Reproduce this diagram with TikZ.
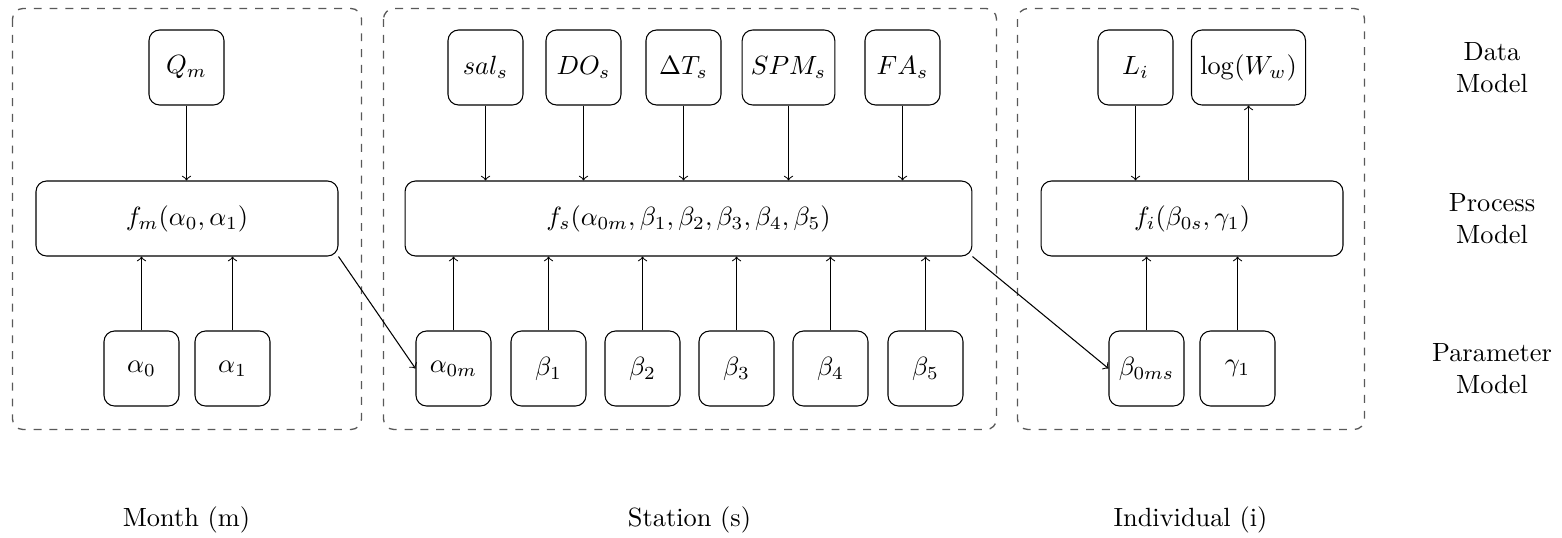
\documentclass[tikz,border=0pt]{standalone}
\usetikzlibrary{calc}
\begin{document}
\begin{tikzpicture}[x=0.013333cm, y=-0.013333cm,
  var/.style={draw, rounded corners, minimum width=1cm, minimum height=1cm, inner sep=3.33pt},
  proc/.style={var, minimum width=#1},
  group/.style={draw=black!65, dashed, rounded corners, line width=0.5pt},
  lvl/.style={align=center},
  link/.style={->}]
\useasboundingbox (0,0) rectangle (1562,537);

% plates
\draw[group] (12.5,8.5) rectangle (361.5,429.5);
\draw[group] (383.5,8.5) rectangle (996.5,429.5);
\draw[group] (1017.5,8.5) rectangle (1364.5,429.5);

% month
\node[var] (Qm) at (186.5,67.5) {$Q_m$};
\node[proc=4.027cm] (fm) at (187,218.5) {$f_m(\alpha_0, \alpha_1)$};
\node[var] (a0) at (141.5,368.5) {$\alpha_0$};
\node[var] (a1) at (232.5,368.5) {$\alpha_1$};

% station
\node[var] (sal) at (485.5,67.5) {$sal_s$};
\node[var] (DO) at (583.5,67.5) {$DO_s$};
\node[var] (DT) at (683.5,67.5) {$\Delta T_s$};
\node[var] (SPM) at (788.5,67.5) {$SPM_s$};
\node[var] (FA) at (902.5,67.5) {$FA_s$};
\node[proc=7.56cm] (fs) at (688.5,218.5) {$f_s(\alpha_{0m}, \beta_1, \beta_2, \beta_3, \beta_4, \beta_5)$};
\node[var] (a0m) at (453.5,368.5) {$\alpha_{0m}$};
\node[var] (b1) at (548.5,368.5) {$\beta_1$};
\node[var] (b2) at (642.5,368.5) {$\beta_2$};
\node[var] (b3) at (736.5,368.5) {$\beta_3$};
\node[var] (b4) at (830.5,368.5) {$\beta_4$};
\node[var] (b5) at (925.5,368.5) {$\beta_5$};

% individual
\node[var] (Li) at (1135.5,67.5) {$L_i$};
\node[var] (logW) at (1248.5,67.5) {$\log(W_w)$};
\node[proc=4.027cm] (fi) at (1192,218.5) {$f_i(\beta_{0s}, \gamma_1)$};
\node[var] (b0ms) at (1146.5,368.5) {$\beta_{0ms}$};
\node[var] (g1) at (1237.5,368.5) {$\gamma_1$};

% level labels
\node[lvl] (ldata) at (1492,67.5) {Data\\Model};
\node[lvl] (lproc) at (1492,218.5) {Process\\Model};
\node[lvl] (lpar) at (1492,368.5) {Parameter\\Model};

% plate labels
\node (pm) at (186.5,520) {Month (m)};
\node (ps) at (689.5,520) {Station (s)};
\node (pi) at (1190.5,520) {Individual (i)};

% data to process
\foreach \n in {Qm}
  \draw[link] (\n.south) -- (\n.south |- fm.north);
\foreach \n in {sal,DO,DT,SPM,FA}
  \draw[link] (\n.south) -- (\n.south |- fs.north);
\draw[link] (Li.south) -- (Li.south |- fi.north);
\draw[link] (logW.south |- fi.north) -- (logW.south);

% parameters to process
\foreach \n in {a0,a1}
  \draw[link] (\n.north) -- (\n.north |- fm.south);
\foreach \n in {a0m,b1,b2,b3,b4,b5}
  \draw[link] (\n.north) -- (\n.north |- fs.south);
\foreach \n in {b0ms,g1}
  \draw[link] (\n.north) -- (\n.north |- fi.south);

% nesting links
\draw[link] (fm.south east) -- (a0m.west);
\draw[link] (fs.south east) -- (b0ms.west);
\end{tikzpicture}
\end{document}
